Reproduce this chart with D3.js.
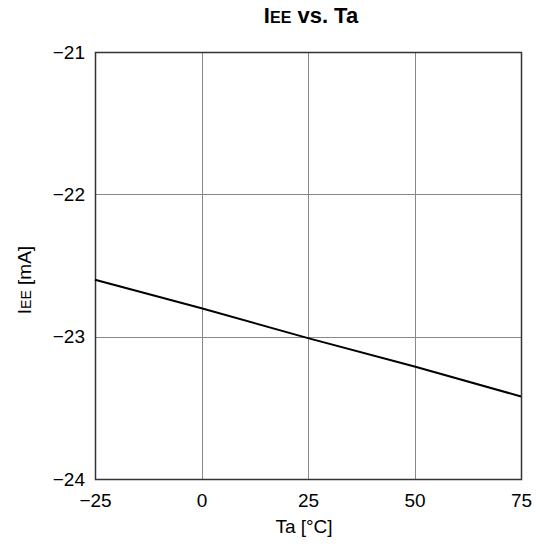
<!DOCTYPE html>
<html>
<head>
<meta charset="utf-8">
<script src="https://cdn.jsdelivr.net/npm/d3@7"></script>
<style>
  body { margin: 0; background: #fff; }
  svg { display: block; font-family: "Liberation Sans", Arial, sans-serif; }
</style>
</head>
<body>
<svg id="chart" width="541" height="544"></svg>
<script>
// Supply current vs. ambient temperature
const temps = [-25, 0, 25, 50, 75];
const ieeValues = [-22.60, -22.80, -23.01, -23.21, -23.42];
const xTicks = [-25, 0, 25, 50, 75];
const yTicks = [-24, -23, -22, -21];

const svg = d3.select("#chart");
const margin = { left: 95, right: 20, top: 52, bottom: 65 };
const W = 541, H = 544;

const x = d3.scaleLinear().domain([-25, 75]).range([margin.left, W - margin.right]);
const y = d3.scaleLinear().domain([-24, -21]).range([H - margin.bottom, margin.top]);

const minus = v => String(v).replace("-", "\u2212");

// grid
const grid = svg.append("g").attr("stroke", "#888").attr("stroke-width", 1);
grid.selectAll(".gx").data(xTicks).join("line")
  .attr("x1", d => Math.round(x(d)) + 0.5).attr("x2", d => Math.round(x(d)) + 0.5)
  .attr("y1", y(-21)).attr("y2", y(-24));
grid.selectAll(".gy").data(yTicks).join("line")
  .attr("y1", d => Math.round(y(d)) + 0.5).attr("y2", d => Math.round(y(d)) + 0.5)
  .attr("x1", x(-25)).attr("x2", x(75));

// frame
svg.append("rect")
  .attr("x", Math.round(x(-25)) + 0.5).attr("y", Math.round(y(-21)) + 0.5)
  .attr("width", Math.round(x(75)) - Math.round(x(-25)))
  .attr("height", Math.round(y(-24)) - Math.round(y(-21)))
  .attr("fill", "none").attr("stroke", "#333").attr("stroke-width", 1.5);

// axes (labels only)
const xAxis = svg.append("g").attr("transform", `translate(0,${y(-24)})`)
  .call(d3.axisBottom(x).tickValues(xTicks).tickSize(0).tickPadding(15).tickFormat(minus));
const yAxis = svg.append("g").attr("transform", `translate(${x(-25)},0)`)
  .call(d3.axisLeft(y).tickValues(yTicks).tickSize(0).tickPadding(10).tickFormat(minus));
[xAxis, yAxis].forEach(a => {
  a.attr("font-size", null).attr("font-family", null);
  a.select(".domain").remove();
  a.selectAll("text").style("font-size", "19px").attr("fill", "#000");
});

// data line
svg.append("path")
  .datum(temps.map((t, i) => [t, ieeValues[i]]))
  .attr("fill", "none").attr("stroke", "#000").attr("stroke-width", 2)
  .attr("d", d3.line().x(d => x(d[0])).y(d => y(d[1])));

// title
const title = svg.append("text").attr("x", 311).attr("y", 23)
  .attr("text-anchor", "middle").style("font-size", "22px").attr("font-weight", "bold");
title.append("tspan").text("I");
title.append("tspan").style("font-size", "16px").text("EE");
title.append("tspan").text(" vs. Ta");

// x axis title
svg.append("text").attr("x", 304).attr("y", 533)
  .attr("text-anchor", "middle").style("font-size", "19px").text("Ta [°C]");

// y axis title
const yt = svg.append("text").attr("transform", `translate(31,280) rotate(-90)`)
  .attr("text-anchor", "middle").style("font-size", "19px");
yt.append("tspan").text("I");
yt.append("tspan").style("font-size", "14px").text("EE");
yt.append("tspan").text(" [mA]");
</script>
</body>
</html>
